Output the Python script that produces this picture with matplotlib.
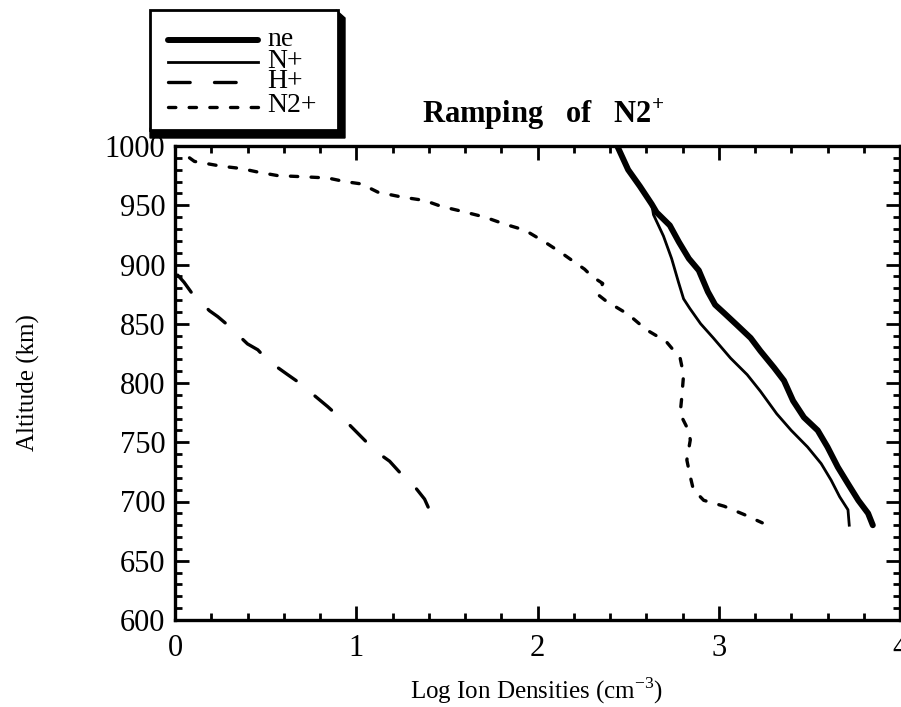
import matplotlib
matplotlib.use('Agg')
import matplotlib.pyplot as plt
from matplotlib.patches import Polygon, Rectangle
from matplotlib.ticker import MultipleLocator

# log densities, altitude in km
ne_x = [2.44, 2.50, 2.565, 2.63, 2.657, 2.73, 2.78, 2.835, 2.89, 2.94, 2.98, 3.03, 3.10,
        3.176, 3.23, 3.305, 3.36, 3.41, 3.47, 3.546, 3.60, 3.657, 3.713, 3.77, 3.824, 3.85]
ne_alt = [1000, 980, 966, 951, 944, 933, 919, 905, 895, 877, 866, 859, 849,
          838, 827, 813, 802, 785, 771, 760, 746, 729, 715, 701, 690, 680]

np_x = [2.44, 2.50, 2.565, 2.63, 2.64, 2.695, 2.74, 2.778, 2.806, 2.84, 2.90, 2.97,
        3.065, 3.157, 3.23, 3.32, 3.40, 3.49, 3.565, 3.62, 3.667, 3.713, 3.72]
np_alt = [1000, 980, 966, 951, 942, 924, 905, 885, 871, 863, 850, 838,
          821, 807, 793, 774, 760, 746, 732, 718, 704, 693, 680]

hp_x = [0.015, 0.05, 0.097, 0.19, 0.236, 0.29, 0.40, 0.457, 0.512, 0.622, 0.678, 0.733,
        0.843, 0.90, 0.954, 1.064, 1.12, 1.184, 1.267, 1.32, 1.377, 1.424, 1.43]
hp_alt = [891, 885, 875, 861, 856, 849, 833, 828, 819, 807, 801, 794,
          780, 772, 766, 749, 741, 734, 720, 713, 702, 686, 679]

n2p_x = [0.08, 0.107, 0.254, 0.365, 0.457, 0.567, 0.715, 0.843, 0.936, 1.028, 1.12, 1.249,
         1.378, 1.47, 1.58, 1.709, 1.82, 1.93, 2.04, 2.13, 2.26, 2.30, 2.36, 2.33, 2.38,
         2.50, 2.60, 2.71, 2.787, 2.806, 2.796, 2.787, 2.833, 2.843, 2.824, 2.843, 2.86,
         2.917, 3.03, 3.14, 3.24]
n2p_alt = [990, 987, 983, 981, 978, 975, 974, 973, 970, 968, 961, 957,
           954, 949, 945, 940, 934, 929, 919, 910, 896, 890, 884, 875, 869,
           858, 845, 835, 821, 807, 788, 774, 760, 752, 735, 721, 710,
           701, 696, 689, 682]

labels = ['ne', 'N+', 'H+', 'N2+']

plt.rcParams['font.family'] = ['Liberation Serif', 'DejaVu Serif']
plt.rcParams['mathtext.fontset'] = 'custom'
plt.rcParams['mathtext.rm'] = 'Liberation Serif'
plt.rcParams['mathtext.bf'] = 'Liberation Serif:bold'

styles = [
    dict(lw=4.3, solid_capstyle='round'),
    dict(lw=2.0),
    dict(lw=2.4, dashes=(6.5, 7.3), dash_capstyle='round'),
    dict(lw=2.4, dashes=(2.2, 4.0), dash_capstyle='round'),
]

W, H = 901, 707
fig = plt.figure(figsize=(W / 100, H / 100), dpi=100)
ax = fig.add_axes([175 / W, 1 - 620 / H, 725 / W, 474 / H])

series = [(ne_x, ne_alt), (np_x, np_alt), (hp_x, hp_alt), (n2p_x, n2p_alt)]
for (xs, ys), st in zip(series, styles):
    ax.plot(xs, ys, color='k', **st)

ax.set_xlim(0, 4)
ax.set_ylim(600, 1000)
ax.xaxis.set_major_locator(MultipleLocator(1))
ax.xaxis.set_minor_locator(MultipleLocator(0.2))
ax.yaxis.set_major_locator(MultipleLocator(50))
ax.yaxis.set_minor_locator(MultipleLocator(10))
ax.tick_params(which='both', direction='in', top=True, right=True, width=2)
ax.tick_params(which='major', length=10, labelsize=22)
ax.tick_params(which='minor', length=5)
ax.tick_params(axis='x', pad=10)
ax.tick_params(axis='y', pad=7)
for sp in ax.spines.values():
    sp.set_linewidth(2.4)

fig.text(543 / W, 1 - 123 / H, r'Ramping   of   N2$^{\mathbf{+}}$', ha='center',
         va='baseline', fontsize=22, fontweight='bold')
fig.text(537 / W, 1 - 699 / H, r'Log Ion Densities (cm$^{-3}$)', ha='center',
         va='baseline', fontsize=18)
fig.text(28 / W, 1 - 383 / H, 'Altitude (km)', rotation=90, ha='center',
         va='center', fontsize=18)

# legend box with the drop shadow, laid out in pixels
lax = fig.add_axes([148 / W, 1 - 140 / H, 200 / W, 132 / H])
lax.set_xlim(148, 348)
lax.set_ylim(140, 8)
lax.axis('off')
lax.add_patch(Polygon([(336, 10), (345, 18), (345, 138), (150, 138), (150, 128), (336, 128)],
                      closed=True, facecolor='k', edgecolor='k'))
lax.add_patch(Rectangle((150, 10), 188, 120, facecolor='white', edgecolor='k', lw=2))
rows = [40, 62, 82, 107]
for lab, y, st in zip(labels, rows, styles):
    lax.plot([168, 258], [y, y], color='k', **st)
    lax.text(267, y - 1, lab, va='center', ha='left', fontsize=20)

fig.savefig('out.png', dpi=100)
